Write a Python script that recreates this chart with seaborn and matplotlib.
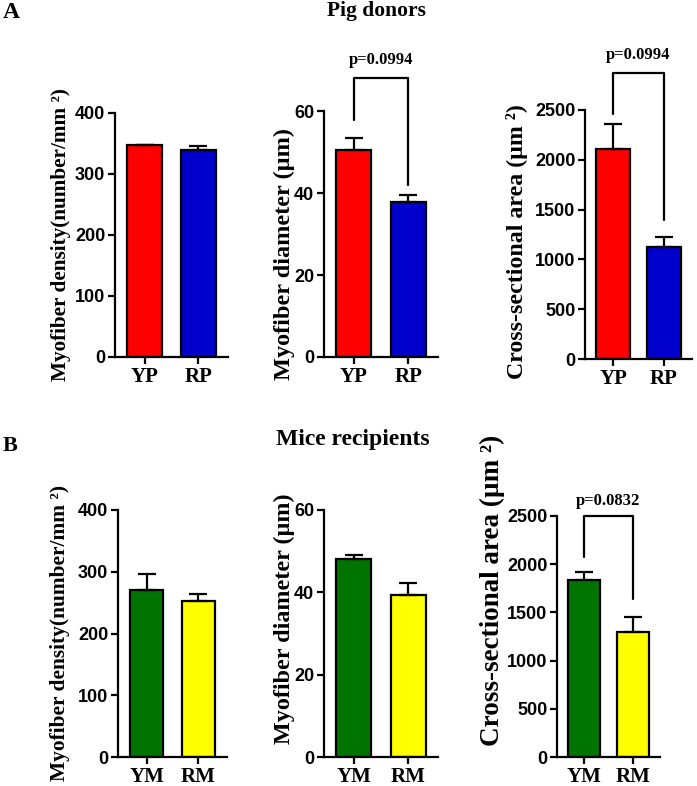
import matplotlib
matplotlib.use("Agg")
import matplotlib.pyplot as plt
import seaborn as sns
import pandas as pd

sns.set_style("ticks")
plt.rcParams["font.family"] = ["Liberation Serif", "DejaVu Serif"]
for k in ["text.color", "axes.labelcolor", "xtick.color", "ytick.color", "axes.edgecolor"]:
    plt.rcParams[k] = "black"

# data
pig_groups = ["YP", "RP"]
mice_groups = ["YM", "RM"]
pig_colors = ["#ff0000", "#0000cc"]
mice_colors = ["#007400", "#ffff00"]

pig_density = [347, 340]
pig_density_err = [1, 6]
pig_diameter = [50.5, 37.8]
pig_diameter_err = [3.0, 1.8]
pig_area = [2110, 1120]
pig_area_err = [250, 105]

mice_density = [271, 252]
mice_density_err = [26, 12]
mice_diameter = [48.0, 39.3]
mice_diameter_err = [1.0, 3.0]
mice_area = [1840, 1300]
mice_area_err = [80, 150]

density_ticks = [0, 100, 200, 300, 400]
diameter_ticks = [0, 20, 40, 60]
area_ticks = [0, 500, 1000, 1500, 2000, 2500]

lbl_density = "Myofiber density(number/mm \u00b2)"
lbl_diameter = "Myofiber diameter (\u00b5m)"
lbl_area = "Cross-sectional area (\u00b5m \u00b2)"

W, H = 697, 786
fig = plt.figure(figsize=(W / 100, H / 100), dpi=100)


def px_axes(x0, x1, ytop, ybot):
    ax = fig.add_axes([x0 / W, 1 - ybot / H, (x1 - x0) / W, (ybot - ytop) / H])
    ax.px = (x0, x1, ytop, ybot)
    return ax


def bar_panel(ax, groups, vals, errs, colors, ticks, ylabel, lsize, lx, ly):
    df = pd.DataFrame({"group": groups, "value": vals})
    sns.barplot(data=df, x="group", y="value", hue="group", palette=colors,
                legend=False, width=0.65, edgecolor="black", linewidth=1.6,
                saturation=1, errorbar=None, ax=ax)
    ax.errorbar(range(len(vals)), vals, yerr=[[0] * len(vals), errs], fmt="none",
                ecolor="black", elinewidth=1.6, capsize=6.5, capthick=1.6, zorder=1)
    ax.set_xlim(-0.55, 1.55)
    ax.set_ylim(0, ticks[-1])
    ax.set_yticks(ticks)
    ax.set_xlabel("")
    ax.set_ylabel(ylabel, fontsize=lsize, fontweight="bold")
    ax.yaxis.label.set_va("center")
    x0, x1, ytop, ybot = ax.px
    ax.yaxis.set_label_coords((lx - x0) / (x1 - x0), (ybot - ly) / (ybot - ytop))
    for s in ["top", "right"]:
        ax.spines[s].set_visible(False)
    for s in ["left", "bottom"]:
        ax.spines[s].set_linewidth(1.6)
    ax.tick_params(width=1.6, length=5, pad=2)
    for t in ax.get_yticklabels():
        t.set_fontfamily("Liberation Sans")
        t.set_fontweight("bold")
        t.set_fontsize(13)
    for t in ax.get_xticklabels():
        t.set_fontweight("bold")
        t.set_fontsize(15)


def bracket(ax, y_top, y_left, y_right, y_text, text):
    ax.plot([0, 0, 1, 1], [y_left, y_top, y_top, y_right], color="black",
            lw=1.6, clip_on=False)
    ax.text(0.5, y_text, text, ha="center", va="center",
            fontsize=12, fontweight="bold")


ax1 = px_axes(115, 228, 113, 357)
bar_panel(ax1, pig_groups, pig_density, pig_density_err, pig_colors,
          density_ticks, lbl_density, 15.3, 61, 235)
ax2 = px_axes(324, 438, 111, 357)
bar_panel(ax2, pig_groups, pig_diameter, pig_diameter_err, pig_colors,
          diameter_ticks, lbl_diameter, 17.5, 284, 254)
bracket(ax2, 68, 57.8, 42, 72.4, "p=0.0994")
ax3 = px_axes(585, 692, 110, 359)
bar_panel(ax3, pig_groups, pig_area, pig_area_err, pig_colors,
          area_ticks, lbl_area, 17.2, 517, 242)
bracket(ax3, 2870, 2460, 1400, 3052, "p=0.0994")

ax4 = px_axes(118, 227, 510, 757)
bar_panel(ax4, mice_groups, mice_density, mice_density_err, mice_colors,
          density_ticks, lbl_density, 15.4, 60, 633)
ax5 = px_axes(324, 438, 510, 757)
bar_panel(ax5, mice_groups, mice_diameter, mice_diameter_err, mice_colors,
          diameter_ticks, lbl_diameter, 17.4, 284, 619)
ax6 = px_axes(557, 660, 516, 757)
bar_panel(ax6, mice_groups, mice_area, mice_area_err, mice_colors,
          area_ticks, lbl_area, 19.5, 492, 590)
bracket(ax6, 2500, 2075, 1640, 2656, "p=0.0832")

fig.text(376 / W, 1 - 11 / H, "Pig donors", ha="center", va="center",
         fontsize=15.5, fontweight="bold")
fig.text(353 / W, 1 - 439 / H, "Mice recipients", ha="center", va="center",
         fontsize=17, fontweight="bold")
fig.text(3 / W, 1 - 13 / H, "A", ha="left", va="center", fontsize=17, fontweight="bold")
fig.text(3 / W, 1 - 446 / H, "B", ha="left", va="center", fontsize=16, fontweight="bold")

fig.savefig("out.png", dpi=100)
